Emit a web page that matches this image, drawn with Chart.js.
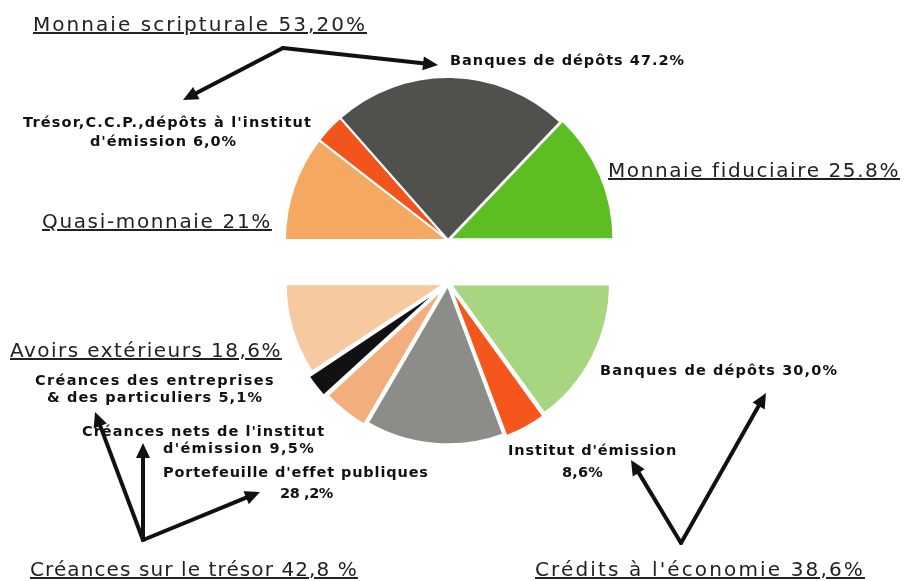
<!DOCTYPE html>
<html lang="fr">
<head>
<meta charset="utf-8">
<title>Masse monétaire et contreparties</title>
<script src="https://cdn.jsdelivr.net/npm/chart.js@4.4.1/dist/chart.umd.min.js"></script>
<style>
    html, body {
        margin: 0;
        padding: 0;
        background: #fff;
    }
    #page {
        position: relative;
        width: 904px;
        height: 581px;
        overflow: hidden;
        font-family: "DejaVu Sans", "Liberation Sans", sans-serif;
        color: #111;
    }
    canvas.pie {
        position: absolute;
        z-index: 0;
    }
    #arrows {
        position: absolute;
        left: 0;
        top: 0;
        z-index: 1;
    }
    .lbl {
        position: absolute;
        z-index: 2;
        white-space: nowrap;
        line-height: 1;
    }
    .head {
        font-size: 20px;
        font-weight: normal;
        color: #222;
        text-decoration: underline;
        text-decoration-thickness: 1.5px;
        text-underline-offset: 1px;
    }
    .part {
        font-size: 14.5px;
        font-weight: bold;
    }
</style>
</head>
<body>
<div id="page">
    <canvas id="top-pie" class="pie"></canvas>
    <canvas id="bottom-pie" class="pie"></canvas>
    <svg id="arrows" width="904" height="581"></svg>
</div>

<script>
// Monnaie (top half, from the left edge over the top to the right edge)
const moneyLabels = ['Quasi-monnaie', 'Trésor, C.C.P., dépôts à l\'institut d\'émission', 'Banques de dépôts', 'Monnaie fiduciaire'];
const moneyValues = [21.0, 6.0, 47.2, 25.8];
const moneyColors = ['#F4A862', '#F2541C', '#50504D', '#5DBE24'];

// Contreparties (bottom half, from the right edge under to the left edge)
const counterLabels = ['Banques de dépôts', 'Institut d\'émission', 'Portefeuille d\'effet publiques',
    'Créances nets de l\'institut d\'émission', 'Créances des entreprises & des particuliers', 'Avoirs extérieurs'];
const counterValues = [30.0, 8.6, 28.2, 9.5, 5.1, 18.6];
const counterColors = ['#A8D680', '#F4561C', '#8C8C89', '#F3AE7E', '#111111', '#F7C9A1'];

// how far each slice is pulled away from the centre
const moneyOffsets = [0, 0, 0, 8];
const counterOffsets = [9, 10, 6, 12, 18, 8];

// half-pie geometry: centre and radius in page pixels
const TOP_PIE = { cx: 448, cy: 240, r: 163 };
const BOTTOM_PIE = { cx: 448, cy: 283, r: 160 };
const MARGIN = 30;

/**
 * Place a canvas so that a half pie of radius r lands on (cx, cy).
 * Chart.js shifts a half circle by r/2 inside its area, so the box is r + 2*margin tall.
 */
function placeCanvas(canvas, geo, upper) {
    const w = 2 * geo.r + 2 * MARGIN;
    const h = geo.r + 2 * MARGIN;
    canvas.width = w;
    canvas.height = h;
    canvas.style.width = w + 'px';
    canvas.style.height = h + 'px';
    canvas.style.left = (geo.cx - geo.r - MARGIN) + 'px';
    canvas.style.top = (upper ? geo.cy - geo.r - MARGIN : geo.cy - MARGIN) + 'px';
}

function halfPie(canvas, geo, upper, labels, values, colors, offsets, border) {
    placeCanvas(canvas, geo, upper);
    return new Chart(canvas, {
        type: 'pie',
        data: {
            labels: labels,
            datasets: [{
                data: values,
                backgroundColor: colors,
                borderColor: '#ffffff',
                borderWidth: border,
                offset: offsets,
                hoverOffset: 0
            }]
        },
        options: {
            responsive: false,
            animation: false,
            events: [],
            rotation: upper ? -90 : 90,
            circumference: 180,
            radius: geo.r,
            layout: { padding: 0 },
            plugins: {
                legend: { display: false },
                tooltip: { enabled: false }
            }
        }
    });
}

halfPie(document.getElementById('top-pie'), TOP_PIE, true,
    moneyLabels, moneyValues, moneyColors, moneyOffsets, 2);
halfPie(document.getElementById('bottom-pie'), BOTTOM_PIE, false,
    counterLabels, counterValues, counterColors, counterOffsets, 3);

// Annotation texts: [text, class, left, baseline, right]
const annotations = [
    ['Monnaie scripturale 53,20%', 'head', 33, 31, 367],
    ['Monnaie fiduciaire 25.8%', 'head', 608, 177, 900],
    ['Quasi-monnaie 21%', 'head', 42, 228, 272],
    ['Avoirs extérieurs 18,6%', 'head', 10, 357, 282],
    ['Créances sur le trésor 42,8 %', 'head', 30, 576, 358],
    ['Crédits à l\'économie 38,6%', 'head', 535, 576, 865],
    ['Banques de dépôts 47.2%', 'part', 450, 65, 685],
    ['Trésor,C.C.P.,dépôts à l\'institut', 'part', 23, 127, 312],
    ['d\'émission 6,0%', 'part', 90, 146, 237],
    ['Créances des entreprises', 'part', 35, 385, 275],
    ['& des particuliers 5,1%', 'part', 47, 402, 263],
    ['Créances nets de l\'institut', 'part', 82, 436, 325],
    ['d\'émission 9,5%', 'part', 163, 453, 315],
    ['Portefeuille d\'effet publiques', 'part', 163, 477, 428],
    ['28 ,2%', 'part', 280, 498, 333],
    ['Banques de dépôts 30,0%', 'part', 600, 375, 838],
    ['Institut d\'émission', 'part', 508, 455, 677],
    ['8,6%', 'part', 562, 477, 603]
];

const page = document.getElementById('page');
annotations.forEach(([text, cls, left, baseline, right]) => {
    const el = document.createElement('span');
    el.className = 'lbl ' + cls;
    el.textContent = text;
    page.appendChild(el);

    const size = parseFloat(getComputedStyle(el).fontSize);
    el.style.left = left + 'px';
    el.style.top = (baseline - 0.86 * size) + 'px';

    // spread the letters so the line covers its full width
    const natural = el.getBoundingClientRect().width;
    const spacing = (right - left - natural) / text.length;
    el.style.letterSpacing = spacing.toFixed(2) + 'px';
});

// Arrows from each heading to its parts: [fromX, fromY, toX, toY]
const arrows = [
    [283, 48, 183, 100],
    [283, 48, 438, 65],
    [143, 540, 95, 412],
    [143, 540, 143, 443],
    [143, 540, 260, 492],
    [681, 543, 631, 460],
    [681, 543, 766, 393]
];

const svgNS = 'http://www.w3.org/2000/svg';
const svg = document.getElementById('arrows');

function drawArrow([x1, y1, x2, y2]) {
    const len = Math.hypot(x2 - x1, y2 - y1);
    const ux = (x2 - x1) / len;
    const uy = (y2 - y1) / len;
    const head = 15;
    const half = 7;
    const bx = x2 - ux * head;
    const by = y2 - uy * head;

    const line = document.createElementNS(svgNS, 'line');
    line.setAttribute('x1', x1);
    line.setAttribute('y1', y1);
    line.setAttribute('x2', bx + ux * 2);
    line.setAttribute('y2', by + uy * 2);
    line.setAttribute('stroke', '#111');
    line.setAttribute('stroke-width', 4);
    line.setAttribute('stroke-linecap', 'round');
    svg.appendChild(line);

    const tip = document.createElementNS(svgNS, 'polygon');
    const pts = [
        [x2, y2],
        [bx - uy * half, by + ux * half],
        [bx + uy * half, by - ux * half]
    ];
    tip.setAttribute('points', pts.map(p => p[0].toFixed(1) + ',' + p[1].toFixed(1)).join(' '));
    tip.setAttribute('fill', '#111');
    svg.appendChild(tip);
}

arrows.forEach(drawArrow);
</script>
</body>
</html>
